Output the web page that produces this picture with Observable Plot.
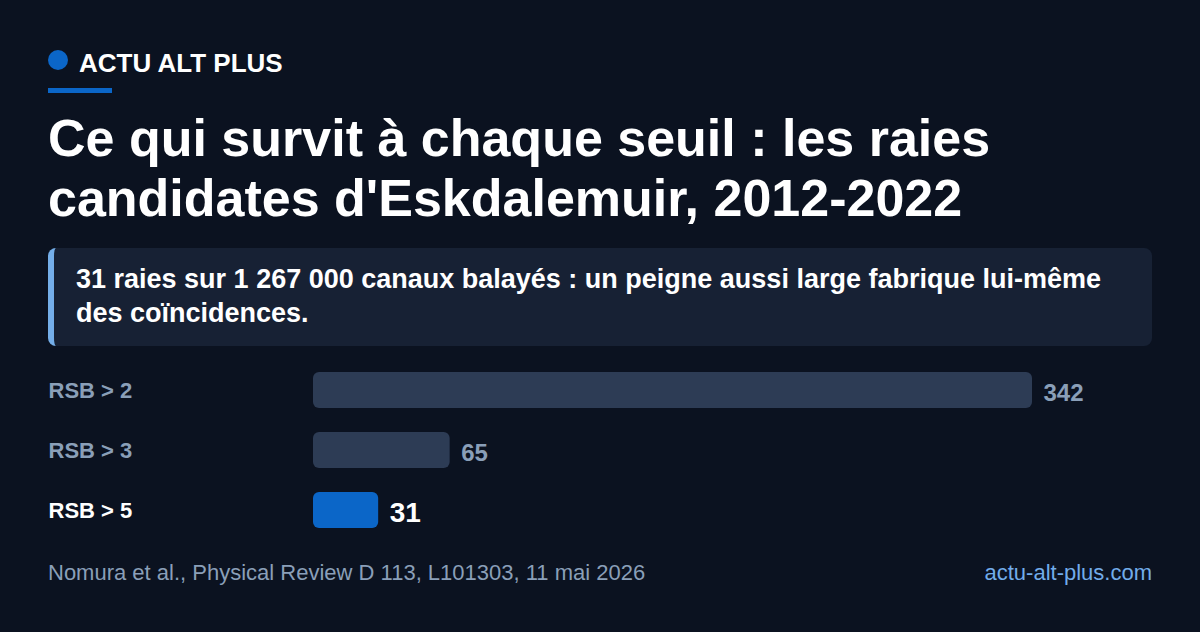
<!DOCTYPE html>
<html>
<head>
<meta charset="utf-8">
<script src="https://cdn.jsdelivr.net/npm/d3@7"></script>
<script src="https://cdn.jsdelivr.net/npm/@observablehq/plot@0.6"></script>
<style>
  html, body { margin: 0; padding: 0; }
  body { width: 1200px; height: 632px; background: #0b1220; position: relative; overflow: hidden;
         font-family: "Liberation Sans", Arial, Helvetica, sans-serif; }
  .abs { position: absolute; }
  #dot { left: 48px; top: 50px; width: 20px; height: 20px; border-radius: 50%; background: #0b66c8; }
  #brand { left: 79px; top: 49.5px; font-size: 26px; line-height: 26px; font-weight: 700; color: #ffffff; white-space: nowrap; }
  #rule { left: 48px; top: 88px; width: 64px; height: 5px; background: #0b66c8; }
  #title { left: 48px; top: 108px; width: 1104px; font-size: 52px; line-height: 60px; font-weight: 700; color: #ffffff; }
  #callout { left: 48px; top: 248px; width: 1104px; height: 98px; box-sizing: border-box; background: #172134;
             border-left: 6px solid #74aee9; border-radius: 8px; padding: 13.5px 24px 0 22px;
             font-size: 27px; line-height: 34px; font-weight: 700; color: #ffffff; }
  #chart { left: 0; top: 360px; }
  #source { left: 48px; top: 562.4px; font-size: 22px; line-height: 22px; color: #8a9fb8; white-space: nowrap; }
  #site { right: 48px; top: 562.4px; font-size: 22px; line-height: 22px; color: #72acea; white-space: nowrap; }
</style>
</head>
<body>
<div class="abs" id="dot"></div>
<div class="abs" id="brand">ACTU ALT PLUS</div>
<div class="abs" id="rule"></div>
<div class="abs" id="title">Ce qui survit à chaque seuil : les raies candidates d'Eskdalemuir, 2012-2022</div>
<div class="abs" id="callout">31 raies sur 1 267 000 canaux balayés : un peigne aussi large fabrique lui-même des coïncidences.</div>
<div class="abs" id="chart"></div>
<div class="abs" id="source">Nomura et al., Physical Review D 113, L101303, 11 mai 2026</div>
<div class="abs" id="site">actu-alt-plus.com</div>
<script>
const thresholds = ["RSB > 2", "RSB > 3", "RSB > 5"];
const counts = [342, 65, 31];
const highlighted = "RSB > 5";

const rows = thresholds.map((t, i) => ({ threshold: t, count: counts[i], hi: t === highlighted }));

const GRAY_BAR = "#2d3c55";
const BLUE = "#0b66c8";
const GRAY_TEXT = "#8a9fb8";
const WHITE = "#ffffff";

const chart = Plot.plot({
  width: 1200,
  height: 180,
  marginTop: 0,
  marginBottom: 0,
  marginLeft: 313,
  marginRight: 168,
  style: { background: "transparent", fontFamily: "'Liberation Sans', Arial, Helvetica, sans-serif", overflow: "visible" },
  x: { domain: [0, 342], axis: null },
  y: { domain: thresholds, axis: null, paddingInner: 0.4, paddingOuter: 0.2 },
  color: { type: "identity" },
  marks: [
    Plot.barX(rows, { y: "threshold", x: "count", fill: d => d.hi ? BLUE : GRAY_BAR, rx: 6 }),
    Plot.text(rows.filter(d => !d.hi), { y: "threshold", text: "threshold", frameAnchor: "left", textAnchor: "start", dx: -265,
      fill: GRAY_TEXT, fontSize: 22, fontWeight: 700 }),
    Plot.text(rows.filter(d => d.hi), { y: "threshold", text: "threshold", frameAnchor: "left", textAnchor: "start", dx: -265,
      fill: WHITE, fontSize: 22, fontWeight: 700 }),
    Plot.text(rows.filter(d => !d.hi), { y: "threshold", x: "count", text: d => String(d.count), textAnchor: "start", dx: 11, dy: 3,
      fill: GRAY_TEXT, fontSize: 24, fontWeight: 700 }),
    Plot.text(rows.filter(d => d.hi), { y: "threshold", x: "count", text: d => String(d.count), textAnchor: "start", dx: 11, dy: 3,
      fill: WHITE, fontSize: 28, fontWeight: 700 })
  ]
});
document.getElementById("chart").appendChild(chart);
</script>
</body>
</html>
